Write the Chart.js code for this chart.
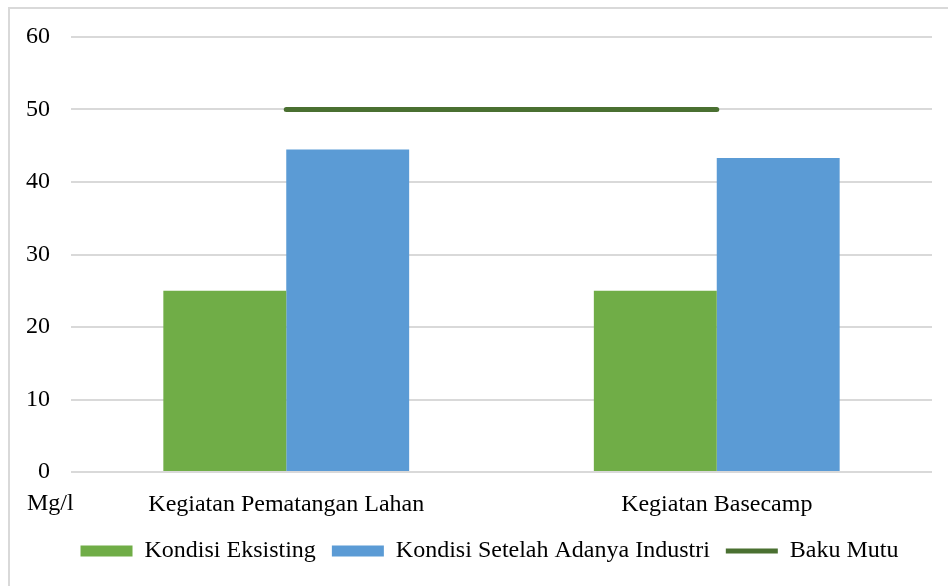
<!DOCTYPE html>
<html>
<head>
<meta charset="utf-8">
<script src="https://cdn.jsdelivr.net/npm/chart.js@4.4.0/dist/chart.umd.min.js"></script>
<style>
  html, body { margin: 0; padding: 0; background: #fff; }
  #wrap { position: relative; width: 948px; height: 586px; overflow: hidden; }
  #frame {
    position: absolute; left: 8px; top: 7px; right: -10px; bottom: -10px;
    border-top: 2px solid #d9d9d9; border-left: 2px solid #d9d9d9;
  }
  #chart { position: absolute; left: 0; top: 0; }
</style>
</head>
<body>
<div id="wrap">
  <div id="frame"></div>
  <canvas id="chart" width="948" height="586"></canvas>
</div>
<script>
const categories = ['Kegiatan Pematangan Lahan', 'Kegiatan Basecamp'];
const kondisiEksisting = [25, 25];
const kondisiSetelah = [44.5, 43.3];
const bakuMutu = [50, 50];
const yMin = 0, yMax = 60, yStep = 10;
const unitLabel = 'Mg/l';

const serif = "'Liberation Serif', 'Times New Roman', serif";
const fontSize = 24;
Chart.defaults.font.family = serif;
Chart.defaults.font.size = fontSize;
Chart.defaults.color = '#000';

// unit text under the y axis, on the same row as the category labels
const unitText = {
  id: 'unitText',
  afterDraw(chart) {
    const ctx = chart.ctx;
    const x = chart.scales.x;
    ctx.save();
    ctx.font = fontSize + 'px ' + serif;
    ctx.fillStyle = '#000';
    ctx.textAlign = 'left';
    ctx.textBaseline = 'top';
    ctx.fillText(unitLabel, chart.chartArea.left - 44, x.top + 20);
    ctx.restore();
  }
};

// legend row sits a bit right of the canvas centre
const legendShift = {
  id: 'legendShift',
  afterLayout(chart) {
    if (chart.legend) chart.legend.left += 47;
  }
};

new Chart(document.getElementById('chart'), {
  type: 'bar',
  data: {
    labels: categories,
    datasets: [
      {
        label: 'Kondisi Eksisting',
        data: kondisiEksisting,
        backgroundColor: '#70ad47',
        borderWidth: 0,
        pointStyle: 'rect',
        barPercentage: 1,
        categoryPercentage: 0.571
      },
      {
        label: 'Kondisi Setelah Adanya Industri',
        data: kondisiSetelah,
        backgroundColor: '#5b9bd5',
        borderWidth: 0,
        pointStyle: 'rect',
        barPercentage: 1,
        categoryPercentage: 0.571
      },
      {
        type: 'line',
        label: 'Baku Mutu',
        data: bakuMutu,
        borderColor: '#4a7031',
        backgroundColor: '#4a7031',
        borderWidth: 5,
        borderCapStyle: 'round',
        pointStyle: 'line',
        pointRadius: 0,
        fill: false
      }
    ]
  },
  options: {
    responsive: false,
    animation: false,
    layout: { padding: { left: 0, right: 16, top: 37, bottom: 13 } },
    plugins: {
      tooltip: { enabled: false },
      legend: {
        position: 'bottom',
        labels: {
          usePointStyle: true,
          pointStyleWidth: 52,
          boxHeight: 11,
          padding: 16,
          color: '#000',
          font: { size: fontSize, family: serif }
        }
      }
    },
    scales: {
      x: {
        grid: { display: false },
        border: { display: false },
        ticks: { padding: 10, color: '#000', font: { size: fontSize } },
        afterFit(scale) { scale.height = 51; }
      },
      y: {
        min: yMin,
        max: yMax,
        grid: { color: '#d9d9d9', lineWidth: 2, drawTicks: false },
        border: { display: false },
        ticks: { stepSize: yStep, padding: 21, color: '#000', font: { size: fontSize } },
        afterFit(scale) { scale.width = 71; }
      }
    }
  },
  plugins: [unitText, legendShift]
});
</script>
</body>
</html>
